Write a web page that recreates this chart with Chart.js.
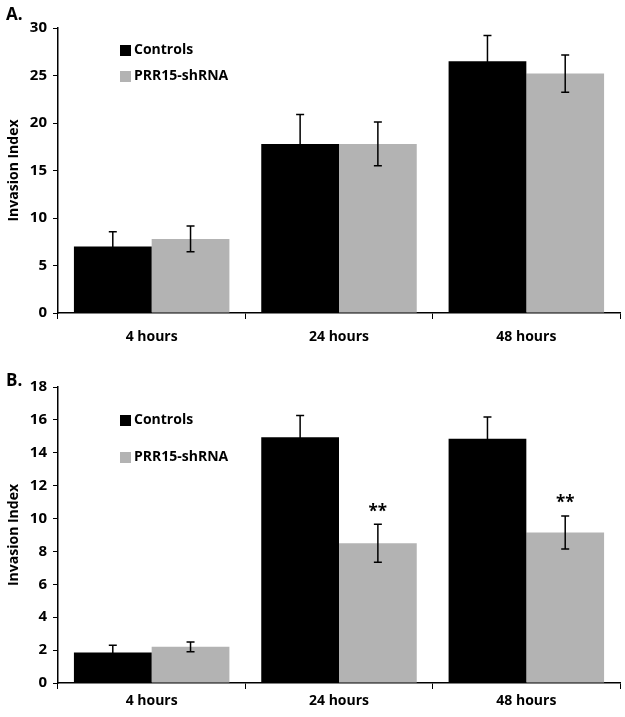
<!DOCTYPE html>
<html>
<head>
<meta charset="utf-8">
<script src="https://cdn.jsdelivr.net/npm/chart.js@4"></script>
<style>
  body { margin: 0; background: #fff; font-family: "Open Sans", sans-serif; }
  .panel { position: absolute; left: 0; width: 625px; }
  .tag { position: absolute; left: 6px; font-weight: bold; font-size: 17px; color: #000; }
</style>
</head>
<body>
<div class="panel" style="top:0;height:345px"><canvas id="chartA"></canvas></div>
<div class="tag" style="top:2px">A.</div>
<div class="panel" style="top:360px;height:357px"><canvas id="chartB"></canvas></div>
<div class="tag" style="top:368px">B.</div>
<script>
const categories = ['4 hours', '24 hours', '48 hours'];

// panel A
const controlsA = [7.0, 17.8, 26.5];
const controlsErrA = [1.55, 3.1, 2.7];
const shrnaA = [7.8, 17.8, 25.2];
const shrnaErrA = [1.35, 2.3, 1.95];
const starsA = ['', '', ''];

// panel B
const controlsB = [1.85, 14.95, 14.85];
const controlsErrB = [0.45, 1.32, 1.32];
const shrnaB = [2.2, 8.5, 9.15];
const shrnaErrB = [0.3, 1.15, 1.0];
const starsB = ['', '**', '**'];

const errorBars = {
  id: 'errorBars',
  afterDatasetsDraw(chart, args, opts) {
    const ctx = chart.ctx;
    const y = chart.scales.y;
    ctx.save();
    ctx.strokeStyle = '#000';
    ctx.lineWidth = 1.5;
    chart.data.datasets.forEach((ds, i) => {
      chart.getDatasetMeta(i).data.forEach((bar, j) => {
        const v = ds.data[j], e = ds.errors[j];
        const top = y.getPixelForValue(v + e), bot = y.getPixelForValue(v - e);
        ctx.beginPath();
        ctx.moveTo(bar.x, top); ctx.lineTo(bar.x, bot);
        ctx.moveTo(bar.x - 4, top); ctx.lineTo(bar.x + 4, top);
        ctx.moveTo(bar.x - 4, bot); ctx.lineTo(bar.x + 4, bot);
        ctx.stroke();
        if (ds.stars && ds.stars[j]) {
          ctx.fillStyle = '#000';
          ctx.font = 'bold 17px "Open Sans"';
          ctx.textAlign = 'center';
          ctx.textBaseline = 'bottom';
          ctx.fillText(ds.stars[j], bar.x, top - 4);
        }
      });
    });
    // legend inside plot
    const a = chart.chartArea;
    ctx.font = 'bold 14px "Open Sans"';
    ctx.textAlign = 'left';
    ctx.textBaseline = 'middle';
    chart.data.datasets.forEach((ds, i) => {
      const ly = a.top + opts.legendY[i];
      ctx.fillStyle = ds.backgroundColor;
      ctx.fillRect(a.left + opts.legendX, ly - 5, 11, 11);
      ctx.fillStyle = '#000';
      ctx.fillText(ds.label, a.left + opts.legendX + 14, ly);
    });
    ctx.restore();
  }
};

function makeChart(id, ctrl, ctrlErr, sh, shErr, stars, max, step, pad, xHeight, xPad, legendY) {
  return new Chart(document.getElementById(id), {
    type: 'bar',
    data: {
      labels: categories,
      datasets: [
        { label: 'Controls', data: ctrl, errors: ctrlErr, backgroundColor: '#000000' },
        { label: 'PRR15-shRNA', data: sh, errors: shErr, stars: stars, backgroundColor: '#b3b3b3' }
      ]
    },
    options: {
      responsive: true,
      maintainAspectRatio: false,
      animation: false,
      layout: { padding: { top: pad, right: 5, left: 6 } },
      plugins: {
        legend: { display: false },
        tooltip: { enabled: false },
        errorBars: { legendX: 62, legendY: legendY }
      },
      datasets: { bar: { categoryPercentage: 0.83, barPercentage: 1.0 } },
      scales: {
        x: {
          grid: { display: true, drawOnChartArea: false, drawTicks: true, tickLength: 6, color: '#000', offset: true },
          border: { color: '#000', width: 1.5 },
          ticks: { color: '#000', font: { family: 'Open Sans', weight: 'bold', size: 14 }, padding: xPad },
          afterFit: s => { s.height = xHeight; }
        },
        y: {
          min: 0, max: max,
          ticks: { stepSize: step, color: '#000', font: { family: 'Open Sans', weight: 'bold', size: 15 }, padding: 6 },
          grid: { display: true, drawOnChartArea: false, drawTicks: true, tickLength: 5, color: '#000' },
          border: { color: '#000', width: 1.5 },
          title: { display: true, text: 'Invasion Index', color: '#000', font: { family: 'Open Sans', weight: 'bold', size: 14 }, padding: 0 },
          afterFit: s => { s.width = 52; }
        }
      }
    },
    plugins: [errorBars]
  });
}

makeChart('chartA', controlsA, controlsErrA, shrnaA, shrnaErrA, starsA, 30, 5, 28, 32, 10, [22, 48]);
makeChart('chartB', controlsB, controlsErrB, shrnaB, shrnaErrB, starsB, 18, 2, 27, 34, 4, [33, 70]);
</script>
</body>
</html>
